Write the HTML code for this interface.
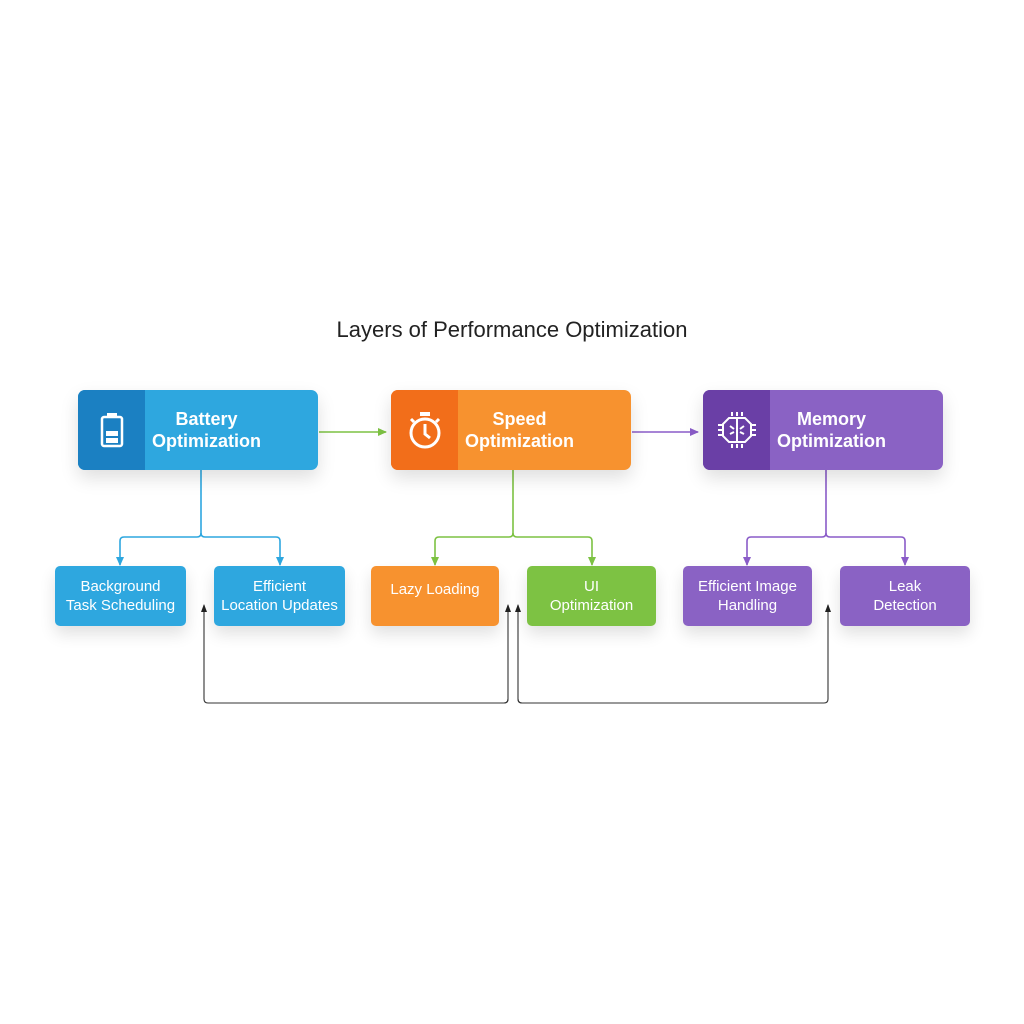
<!DOCTYPE html>
<html><head><meta charset="utf-8"><style>
body{margin:0;width:1024px;height:1024px;background:#fff;position:relative;overflow:hidden;font-family:"Liberation Sans",sans-serif}
.t{position:absolute;left:0;width:1024px;top:317px;text-align:center;font-size:22px;color:#222}
.m{position:absolute;top:390px;width:240px;height:80px;border-radius:7px;box-shadow:0 8px 18px rgba(0,0,0,.13);overflow:hidden;color:#fff;font-weight:bold;font-size:18px}
.m .ic{position:absolute;left:0;top:0;width:67px;height:80px;display:flex;align-items:center;justify-content:center}
.m .tx{position:absolute;left:67px;right:0;top:0;height:80px;display:flex;align-items:center;justify-content:center;text-align:center;line-height:22px;padding-right:50px}
.c{position:absolute;top:566px;height:60px;width:130px;border-radius:5px;color:#fff;font-size:15px;line-height:19px;display:flex;align-items:center;justify-content:center;text-align:center;box-shadow:0 8px 16px rgba(0,0,0,.12)}
svg{position:absolute;left:0;top:0}
</style></head><body>
<div class="t">Layers of Performance Optimization</div>
<svg width="1024" height="1024">
<defs>
<marker id="g" markerUnits="userSpaceOnUse" markerWidth="9" markerHeight="9" refX="8" refY="4.5" orient="auto"><path d="M0,0.5L9,4.5L0,8.5z" fill="#7dc243"/></marker>
<marker id="p" markerUnits="userSpaceOnUse" markerWidth="9" markerHeight="9" refX="8" refY="4.5" orient="auto"><path d="M0,0.5L9,4.5L0,8.5z" fill="#8a5cc8"/></marker>
<marker id="b" markerUnits="userSpaceOnUse" markerWidth="9" markerHeight="9" refX="8" refY="4.5" orient="auto"><path d="M0,0.5L9,4.5L0,8.5z" fill="#2ea7df"/></marker>
<marker id="k" markerUnits="userSpaceOnUse" markerWidth="8" markerHeight="8" refX="7" refY="4" orient="auto"><path d="M0,1L8,4L0,7z" fill="#222"/></marker>
</defs>
<g fill="none" stroke-width="1.6">
<line x1="319" y1="432" x2="386" y2="432" stroke="#7dc243" marker-end="url(#g)"/>
<line x1="632" y1="432" x2="698" y2="432" stroke="#8a5cc8" marker-end="url(#p)"/>
<path d="M201 470V533q0 4-4 4H124q-4 0-4 4V565" stroke="#2ea7df" marker-end="url(#b)"/>
<path d="M201 533q0 4 4 4H276q4 0 4 4V565" stroke="#2ea7df" marker-end="url(#b)"/>
<path d="M513 470V533q0 4-4 4H439q-4 0-4 4V565" stroke="#7dc243" marker-end="url(#g)"/>
<path d="M513 533q0 4 4 4H588q4 0 4 4V565" stroke="#7dc243" marker-end="url(#g)"/>
<path d="M826 470V533q0 4-4 4H751q-4 0-4 4V565" stroke="#8a5cc8" marker-end="url(#p)"/>
<path d="M826 533q0 4 4 4H901q4 0 4 4V565" stroke="#8a5cc8" marker-end="url(#p)"/>
<g stroke="#333" stroke-width="1.1">
<path d="M508 699q0 4-4 4H208q-4 0-4-4V605" marker-end="url(#k)"/>
<path d="M504 703q4 0 4-4V605" marker-end="url(#k)"/>
<path d="M518 699q0 4 4 4H824q4 0 4-4V605" marker-end="url(#k)"/>
<path d="M522 703q-4 0-4-4V605" marker-end="url(#k)"/>
</g>
</g>
</svg>
<div class="m" style="left:78px;background:#2ea7df"><div class="ic" style="background:#1b80c2">
<svg style="position:static" width="26" height="36" viewBox="0 0 26 36"><rect x="8" y="1" width="10" height="4" fill="#fff"/><rect x="3" y="5" width="20" height="29" rx="2" fill="none" stroke="#fff" stroke-width="2.5"/><rect x="7" y="19" width="12" height="5" fill="#fff"/><rect x="7" y="26" width="12" height="5" fill="#fff"/></svg></div><div class="tx">Battery<br>Optimization</div></div>
<div class="m" style="left:391px;background:#f7922f"><div class="ic" style="background:#f26e1a">
<svg style="position:static" width="36" height="40" viewBox="0 0 36 40"><circle cx="18" cy="23" r="14" fill="none" stroke="#fff" stroke-width="3"/><rect x="13" y="2" width="10" height="4" fill="#fff"/><path d="M18 14V24L23 28" stroke="#fff" stroke-width="3" fill="none"/><path d="M4 9l3 3M32 9l-3 3" stroke="#fff" stroke-width="3"/></svg></div><div class="tx">Speed<br>Optimization</div></div>
<div class="m" style="left:703px;background:#8a62c4"><div class="ic" style="background:#6a3fa6">
<svg style="position:static" width="40" height="40" viewBox="0 0 40 40" fill="none" stroke="#fff" stroke-width="2"><path d="M12 8h16l6 6v12l-6 6H12l-6-6V14z"/><path d="M20 9v22M13 16l4 3M27 16l-4 3M13 24l4-2M27 24l-4-2"/><path d="M15 2v4M20 2v4M25 2v4M15 34v4M20 34v4M25 34v4M1 15h4M1 20h4M1 25h4M35 15h4M35 20h4M35 25h4"/></svg></div><div class="tx">Memory<br>Optimization</div></div>
<div class="c" style="left:55px;background:#2ea7df;width:131px">Background<br>Task Scheduling</div>
<div class="c" style="left:214px;background:#2ea7df;width:131px">Efficient<br>Location Updates</div>
<div class="c" style="left:371px;background:#f7922f;width:128px;align-items:flex-start;padding-top:14px;height:46px">Lazy Loading</div>
<div class="c" style="left:527px;background:#7dc243;width:129px">UI<br>Optimization</div>
<div class="c" style="left:683px;background:#8a62c4;width:129px">Efficient Image<br>Handling</div>
<div class="c" style="left:840px;background:#8a62c4;width:130px">Leak<br>Detection</div>
</body></html>
